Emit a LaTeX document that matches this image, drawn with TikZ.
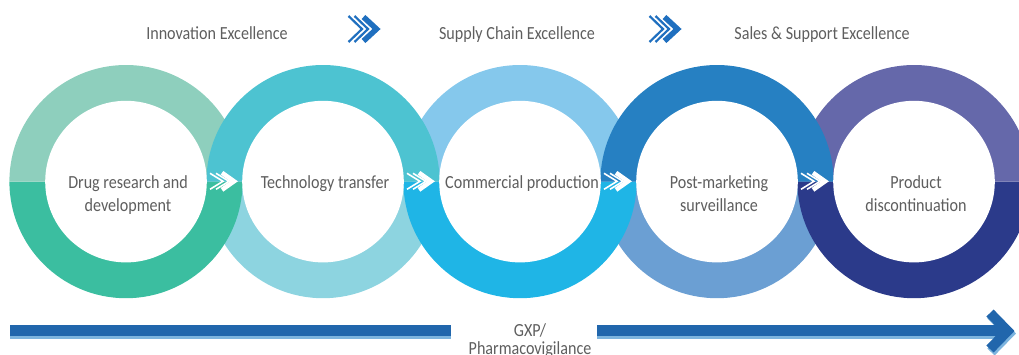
\documentclass[tikz,border=0pt]{standalone}
\usepackage{fontspec}
\setmainfont{Carlito}[FakeStretch=0.87]
\definecolor{rAt}{HTML}{8ECFBD}
\definecolor{rAb}{HTML}{3BBEA0}
\definecolor{rBt}{HTML}{4DC3D1}
\definecolor{rBb}{HTML}{8DD4E0}
\definecolor{rCt}{HTML}{85C8EC}
\definecolor{rCb}{HTML}{1FB5E6}
\definecolor{rDt}{HTML}{2680C2}
\definecolor{rDb}{HTML}{6B9FD3}
\definecolor{rEt}{HTML}{6568AA}
\definecolor{rEb}{HTML}{2B3A8A}
\definecolor{txt}{HTML}{5E5E5E}
\definecolor{barblue}{HTML}{2166AC}
\definecolor{barlight}{HTML}{7DB4DE}
\definecolor{chevblue}{HTML}{1F6FBF}
\newcommand{\topdisk}[2]{\fill[#2] (#1-116.6,181.6) arc[start angle=180,end angle=0,radius=116.6pt] -- cycle;}
\newcommand{\botdisk}[2]{\fill[#2] (#1+116.6,181.6) arc[start angle=0,end angle=-180,radius=116.6pt] -- cycle;}
\tikzset{
  lbl/.style={font=\fontsize{18.5}{23.5}\selectfont, text=txt, align=center, inner sep=0pt, anchor=base},
  ringchevs/.pic={
    \draw[pic actions, line width=1.6pt] (-14,-8) -- (-1,0) -- (-14,8);
    \draw[pic actions, line width=1.6pt] (-8,-8) -- (5,0) -- (-8,8);
    \draw[pic actions, line width=4.5pt] (-2,-8.5) -- (10,0) -- (-2,8.5);
  },
  topchevs/.pic={
    \draw[pic actions, line width=2.2pt] (-16,-13) -- (-2.5,0) -- (-16,13);
    \draw[pic actions, line width=2.2pt] (-10,-13) -- (3.5,0) -- (-10,13);
    \draw[pic actions, line width=5.5pt] (-1,-12) -- (12,0) -- (-1,12);
  }
}
\begin{document}
\begin{tikzpicture}[x=1pt,y=-1pt]
\useasboundingbox (0,0) rectangle (1019,354);
% bottom halves: even rings under, odd rings over
\botdisk{323}{rBb}
\botdisk{717}{rDb}
\botdisk{126}{rAb}
\botdisk{520}{rCb}
\botdisk{914}{rEb}
% top halves: odd rings under, even rings over
\topdisk{126}{rAt}
\topdisk{520}{rCt}
\topdisk{914}{rEt}
\topdisk{323}{rBt}
\topdisk{717}{rDt}
% inner white discs
\foreach \cx in {126,323,520,717,914}
  \fill[white] (\cx,181.6) circle[radius=80.8pt];
% chevrons between rings
\foreach \mx in {224,421,618,815}
  \pic[draw=white] at (\mx,181.3) {ringchevs};
% ring labels (anchor base = baseline of last line)
\node[lbl] (l1) at (128,211.5) {Drug research and\\development};
\node[lbl] (l2) at (325,188) {Technology transfer};
\node[lbl] (l3) at (522,188) {Commercial production};
\node[lbl] (l4) at (719,211.5) {Post-marketing\\surveillance};
\node[lbl] (l5) at (916,211.5) {Product\\discontinuation};
% top labels
\node[lbl] (t1) at (217,39) {Innovation Excellence};
\node[lbl] (t2) at (517,39) {Supply Chain Excellence};
\node[lbl] (t3) at (822,39) {Sales \& Support Excellence};
\pic[draw=chevblue] at (364.5,29) {topchevs};
\pic[draw=chevblue] at (665.5,29) {topchevs};
% bottom bar
\fill[barlight] (10,335.5) rectangle (451,339);
\fill[barblue] (10,325) rectangle (451,335.7);
\fill[barlight] (597,335.5) rectangle (1002,339);
\draw[barlight, line width=10pt, miter limit=10] (991,315) -- (1009,333.5) -- (991,352);
\fill[barblue] (597,325) rectangle (1002,335.7);
\draw[barblue, line width=10pt, miter limit=10] (990,313) -- (1007.5,331) -- (990,349);
\node[lbl, font=\fontsize{18.5}{17.7}\selectfont] (g) at (530,354.4) {GXP/\\Pharmacovigilance};
\end{tikzpicture}
\end{document}
